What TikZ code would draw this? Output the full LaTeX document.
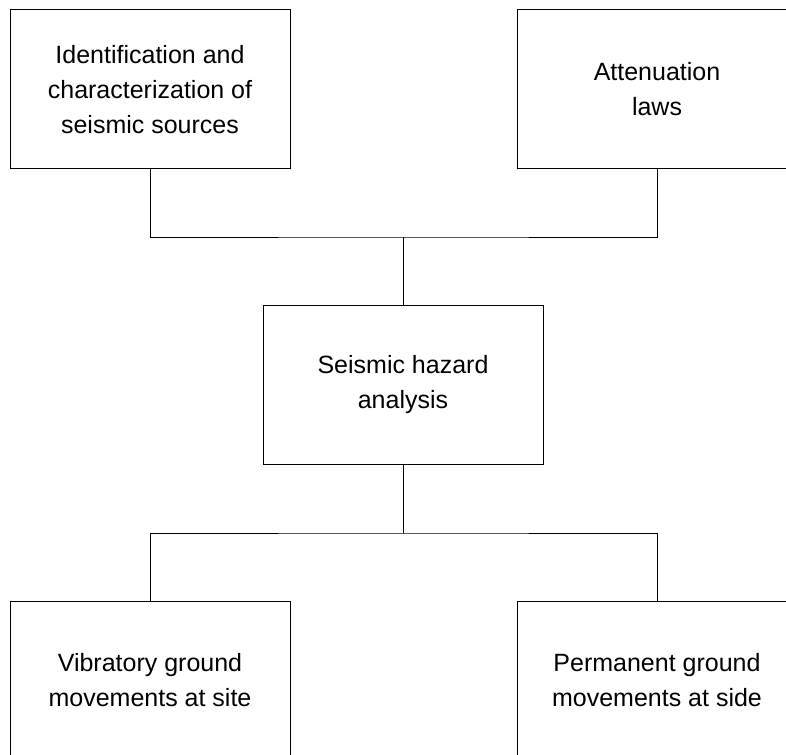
\documentclass[tikz,border=0pt]{standalone}
\usepackage{fontspec}
\setmainfont{Liberation Sans}
\usetikzlibrary{positioning}

\tikzset{
  block/.style={draw, line width=1pt, align=center, minimum width=280pt,
    minimum height=159pt, inner sep=0pt, font=\fontsize{25}{35}\selectfont},
  link/.style={line width=1pt}
}

\begin{document}
\begin{tikzpicture}[x=1pt, y=-1pt]
  \useasboundingbox (0,0) rectangle (786,754);
  \clip (0,0) rectangle (786,754);
  \node[block] (sources) at (150, 89.5) {Identification and\\characterization of\\seismic sources};
  \node[block] (atten) at (657, 89.5) {Attenuation\\laws};
  \node[block] (hazard) at (403, 385) {Seismic hazard\\analysis};
  \node[block] (vib) at (150, 680.5) {Vibratory ground\\movements at site};
  \node[block] (perm) at (657, 680.5) {Permanent ground\\movements at side};
  \coordinate (jtop) at (403, 237);
  \coordinate (jbot) at (403, 533);
  \draw[link] (sources.south) |- (jtop) -| (atten.south);
  \draw[link] (jtop) -- (hazard.north);
  \draw[link] (hazard.south) -- (jbot);
  \draw[link] (vib.north) |- (jbot) -| (perm.north);
\end{tikzpicture}
\end{document}
